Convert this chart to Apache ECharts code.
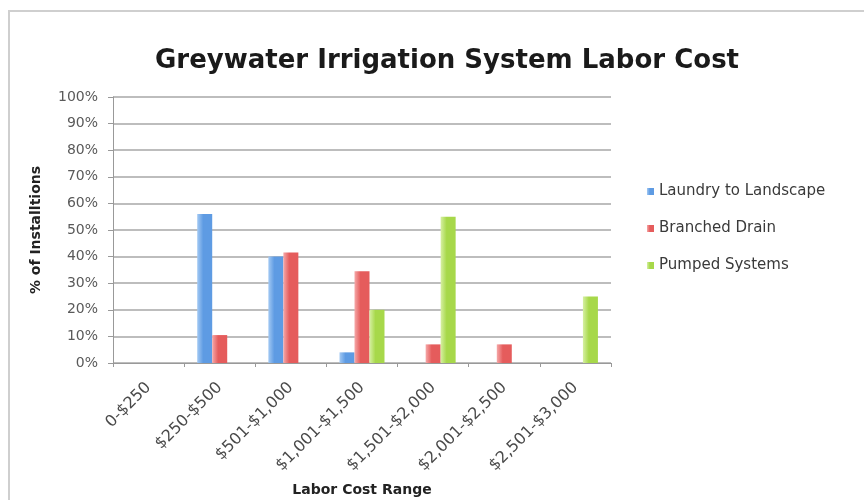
<!DOCTYPE html>
<html><head><meta charset="utf-8">
<script src="https://cdn.jsdelivr.net/npm/echarts@6/dist/echarts.min.js"></script>
<style>
html,body{margin:0;padding:0;background:#fff;}
#frame{position:absolute;left:8px;top:10px;width:870px;height:500px;border:2px solid #cfcfcf;box-sizing:border-box;}
#c{position:absolute;left:0;top:0;width:864px;height:500px;}
</style></head><body>
<div id="frame"></div>
<div id="c"></div>
<script>
var categories = ['0-$250','$250-$500','$501-$1,000','$1,001-$1,500','$1,501-$2,000','$2,001-$2,500','$2,501-$3,000'];
var laundry = [0, 56, 40, 4, 0, 0, 0];
var branched = [0, 10.5, 41.5, 34.5, 7, 7, 0];
var pumped = [0, 0, 0, 20, 55, 0, 25];
var yTicks = [0,10,20,30,40,50,60,70,80,90,100];

function grad(light, mid){
  return new echarts.graphic.LinearGradient(0,0,1,0,[
    {offset:0,color:light},{offset:0.4,color:mid},{offset:1,color:mid}]);
}
var chart = echarts.init(document.getElementById('c'));
var font = '"DejaVu Sans", sans-serif';
chart.setOption({
  animation:false,
  title:{text:'Greywater Irrigation System Labor Cost',left:442,top:43,textAlign:'center',
    textStyle:{fontFamily:font,fontSize:26,fontWeight:'bold',color:'#1a1a1a'}},
  legend:{orient:'vertical',left:642,top:179,itemGap:22,itemWidth:7,itemHeight:7,icon:'rect',
    textStyle:{fontFamily:font,fontSize:15,color:'#3a3a3a'},
    data:['Laundry to Landscape','Branched Drain','Pumped Systems']},
  grid:{left:113,right:253,top:97,bottom:137,outerBoundsMode:'none',containLabel:false},
  xAxis:{type:'category',data:categories,
    axisLine:{lineStyle:{color:'#999',width:1}},
    axisTick:{show:true,alignWithLabel:false,length:4,lineStyle:{color:'#999'}},
    axisLabel:{rotate:45,interval:0,margin:22,fontFamily:font,fontSize:16,color:'#4a4a4a'},
    name:'Labor Cost Range',nameLocation:'middle',nameGap:120,
    nameTextStyle:{fontFamily:font,fontSize:14,fontWeight:'bold',color:'#222'}},
  yAxis:{type:'value',min:0,max:100,interval:10,
    axisLine:{show:true,lineStyle:{color:'#999'}},
    axisTick:{show:true,length:5,lineStyle:{color:'#999'}},
    axisLabel:{formatter:function(v){return v+'%';},fontFamily:font,fontSize:14,color:'#5a5a5a',margin:15},
    splitLine:{lineStyle:{color:'#bdbdbd',width:2}},
    name:'% of Installtions',nameLocation:'middle',nameGap:70,
    nameTextStyle:{fontFamily:font,fontSize:14,fontWeight:'bold',color:'#222'}},
  series:[
    {name:'Laundry to Landscape',type:'bar',data:laundry,barWidth:15,barGap:'0%',
      itemStyle:{color:grad('#a3c9f3','#5e9be3')}},
    {name:'Branched Drain',type:'bar',data:branched,barWidth:15,barGap:'0%',
      itemStyle:{color:grad('#f5a8a8','#e55c5c')}},
    {name:'Pumped Systems',type:'bar',data:pumped,barWidth:15,barGap:'0%',
      itemStyle:{color:grad('#d6f0a2','#a7d84a')}}
  ]
});
</script></body></html>
